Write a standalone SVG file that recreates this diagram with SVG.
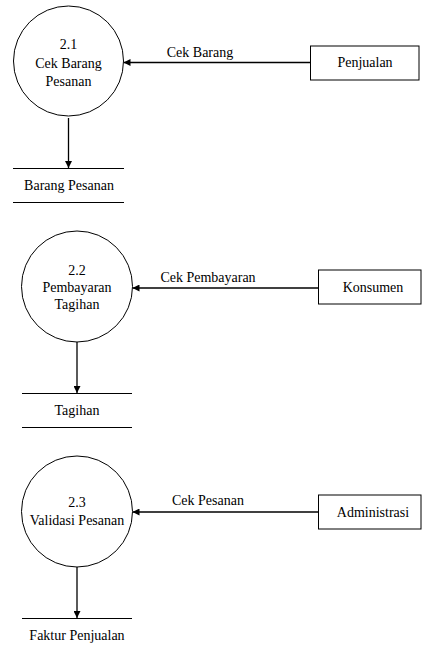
<svg xmlns="http://www.w3.org/2000/svg" width="422" height="651" viewBox="0 0 422 651">
<style>
text{font-family:'Liberation Serif','Times New Roman',serif;font-size:14px;fill:#000;text-anchor:middle}
.proc{fill:#fff;stroke:#000;stroke-width:1}
.ent{fill:#fff;stroke:#000;stroke-width:1}
.store{stroke:#000;stroke-width:1}
.flow{stroke:#000;stroke-width:1.3;fill:none;marker-end:url(#ah)}
</style>
<defs>
<marker id="ah" viewBox="0 0 10 10" refX="10" refY="5" markerWidth="7" markerHeight="7" markerUnits="userSpaceOnUse" orient="auto">
<path d="M0,0 L10,5 L0,10 Z" fill="#000"/>
</marker>
</defs>
<rect width="422" height="651" fill="#fff"/>
<g id="connectors">
<line class="flow" x1="310" y1="62.5" x2="123.5" y2="62.5"/>
<text x="200" y="57">Cek Barang</text>
<line class="flow" x1="68.5" y1="118" x2="68.5" y2="168"/>
<line class="flow" x1="318" y1="288" x2="132.5" y2="288"/>
<text x="208" y="282">Cek Pembayaran</text>
<line class="flow" x1="77" y1="342" x2="77" y2="393"/>
<line class="flow" x1="318" y1="512" x2="132.5" y2="512"/>
<text x="208" y="505">Cek Pesanan</text>
<line class="flow" x1="77" y1="567" x2="77" y2="618"/>
</g>
<g id="p21">
<circle class="proc" cx="68.5" cy="61" r="55"/>
<text x="68.5" y="49">2.1</text>
<text x="68.5" y="68">Cek Barang</text>
<text x="68.5" y="86">Pesanan</text>
</g>
<g id="penjualan">
<rect class="ent" x="310.5" y="46" width="108.5" height="34"/>
<text x="365" y="67">Penjualan</text>
</g>
<g id="ds-barang-pesanan">
<line class="store" x1="13" y1="168.5" x2="124" y2="168.5"/>
<line class="store" x1="13" y1="202.5" x2="124" y2="202.5"/>
<text x="69" y="190">Barang Pesanan</text>
</g>
<g id="p22">
<circle class="proc" cx="77" cy="286.5" r="55.5"/>
<text x="77" y="275">2.2</text>
<text x="77" y="292">Pembayaran</text>
<text x="77" y="309">Tagihan</text>
</g>
<g id="konsumen">
<rect class="ent" x="318.5" y="270" width="102.5" height="34"/>
<text x="373" y="292">Konsumen</text>
</g>
<g id="ds-tagihan">
<line class="store" x1="22" y1="393.5" x2="132" y2="393.5"/>
<line class="store" x1="22" y1="427.5" x2="132" y2="427.5"/>
<text x="77" y="415">Tagihan</text>
</g>
<g id="p23">
<circle class="proc" cx="77" cy="511.5" r="55.5"/>
<text x="77" y="507">2.3</text>
<text x="77" y="525">Validasi Pesanan</text>
</g>
<g id="administrasi">
<rect class="ent" x="318.5" y="495" width="102.5" height="34"/>
<text x="373" y="517">Administrasi</text>
</g>
<g id="ds-faktur">
<line class="store" x1="22" y1="618.5" x2="132" y2="618.5"/>
<text x="77" y="640">Faktur Penjualan</text>
</g>
</svg>
